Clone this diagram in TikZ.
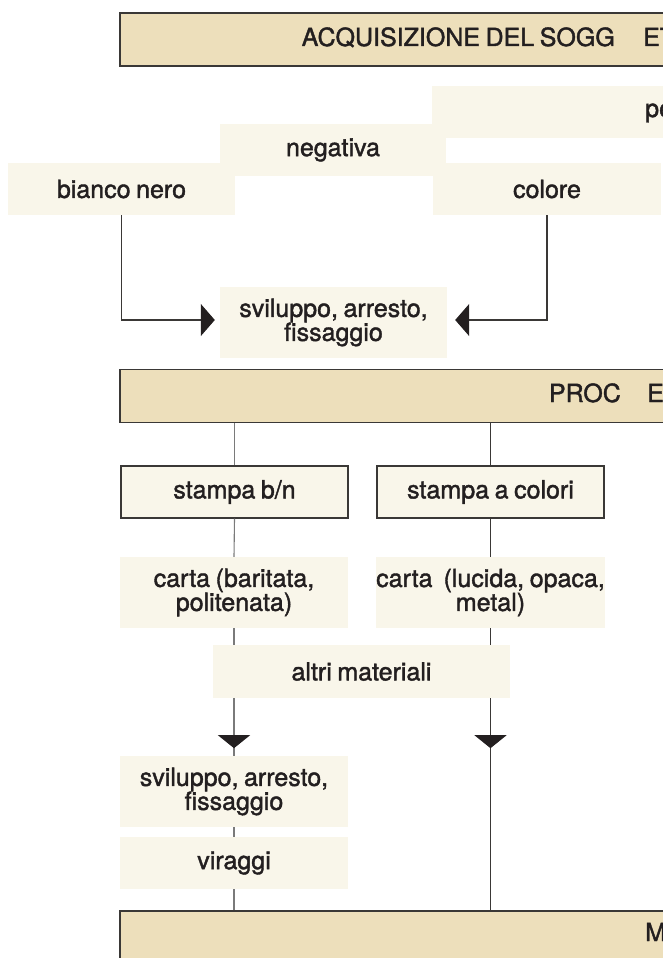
\documentclass[tikz,border=0pt]{standalone}
\usepackage{fontspec}
\setmainfont{TeX Gyre Heros}[FakeBold=1.6,WordSpace=0.8]
\usetikzlibrary{arrows.meta,decorations.markings,calc}
\definecolor{tanbar}{HTML}{EDDFBB}
\definecolor{cream}{HTML}{F9F6EA}
\definecolor{edge}{HTML}{3A3836}
\definecolor{ink}{HTML}{231F20}
\definecolor{lgray}{HTML}{7A7A7A}
\begin{document}
\begin{tikzpicture}[x=1pt,y=-1pt,
  txt/.style={font=\fontsize{25}{24}\selectfont, text=ink, inner sep=0pt},
  cbox/.style={txt, fill=cream, align=center},
  sbox/.style={cbox, draw=edge, line width=1.3pt},
  bar/.style={fill=tanbar, draw=edge, line width=1.5pt, minimum width=880, minimum height=53, inner sep=0pt},
  conn/.style={line width=1.1pt, draw=edge},
  gconn/.style={line width=1.1pt, draw=lgray},
  htip/.style={-{Triangle[width=32pt,length=14pt,color=ink]}},
  downmark/.style={postaction={decorate, decoration={markings,
      mark=at position #1 with {\arrow{Triangle[width=32pt,length=13pt,color=ink]}}}}}
]
\useasboundingbox (0,0) rectangle (663,958);
\clip (0,0) rectangle (663,958);

% top bar
\node[bar] (bar1) at (560,39.5) {};
\node[txt, anchor=base east] (t1) at (615,46) {ACQUISIZIONE DEL SOGG};
\node[txt, anchor=base west] (t2) at (643,46) {ET};

% first section
\node[cbox, minimum width=260, minimum height=52] (pe) at (562,112) {};
\node[txt, anchor=base west] (pet) at (645,117) {pe};
\node[cbox, minimum width=226, minimum height=52] (neg) at (333,150) {negativa};
\node[cbox, minimum width=227, minimum height=52] (bn) at (121.5,189) {bianco nero};
\node[cbox, minimum width=228, minimum height=52] (col) at (547,189) {colore};
\node[cbox, minimum width=227, minimum height=71] (sv1) at (333.5,322.5) {sviluppo, arresto,\\fissaggio};

\draw[conn, htip, shorten >=5pt] (bn.south) |- ($(sv1.west)+(0,-2.5)$);
\draw[conn, htip, shorten >=8pt] (col.south) |- ($(sv1.east)+(0,-2.5)$);

% process bar
\node[bar] (bar2) at (560,396) {};
\node[txt, anchor=base east] (p1) at (621,402) {PROC};
\node[txt, anchor=base west] (p2) at (647,402) {ES};

\node[sbox, minimum width=227, minimum height=52] (st1) at (234.5,492) {stampa b/n};
\node[sbox, minimum width=227, minimum height=52] (st2) at (490.5,492) {stampa a colori};
\node[cbox, minimum width=228, minimum height=71] (c1) at (234,592.5) {carta (baritata,\\politenata)};
\node[cbox, minimum width=228, minimum height=71] (c2) at (490.5,592.5) {carta\ \ (lucida, opaca,\\metal)};
\node[cbox, minimum width=297, minimum height=53] (alt) at (361.5,671.5) {altri materiali};
\node[cbox, minimum width=228, minimum height=71] (sv2) at (234,791.5) {sviluppo, arresto,\\fissaggio};
\node[cbox, minimum width=228, minimum height=52] (vir) at (234,863) {viraggi};

% bottom bar
\node[bar] (bar3) at (560,937.5) {};
\node[txt, anchor=base west] (m1) at (645,941) {M};

% connectors
\draw[gconn] (bar2.south -| st1.north) -- (st1.north);
\draw[conn] (bar2.south -| st2.north) -- (st2.north);
\draw[gconn] (st1.south) -- (c1.north);
\draw[conn] (st2.south) -- (c2.north);
\draw[gconn] (c1.south) -- (c1.south |- alt.north);
\draw[conn] (c2.south) -- (c2.south |- alt.north);
\draw[gconn, downmark=50pt] (alt.south -| sv2.north) -- (sv2.north);
\draw[conn, downmark=50pt] (alt.south -| st2.south) -- (bar3.north -| st2.south);
\draw[gconn] (sv2.south) -- (vir.north);
\draw[gconn] (vir.south) -- (vir.south |- bar3.north);
\end{tikzpicture}
\end{document}
